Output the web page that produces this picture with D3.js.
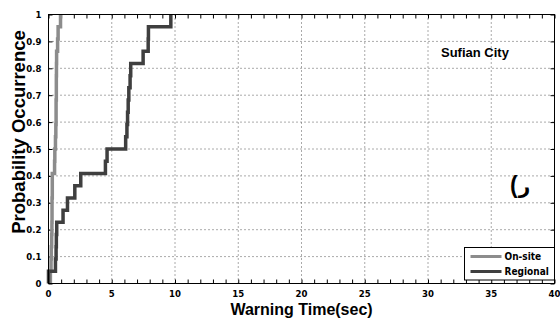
<!DOCTYPE html>
<html>
<head>
<meta charset="utf-8">
<script src="https://cdn.jsdelivr.net/npm/d3@7"></script>
<style>
  body { margin: 0; background: #fff; }
  text { font-family: "Liberation Sans", Arial, sans-serif; }
  .tick-label { font-family: "Liberation Sans Narrow", "DejaVu Sans Condensed", Arial, sans-serif; font-weight: bold; font-size: 9.5px; }
</style>
</head>
<body>
<div id="chart"></div>
<script>
// warning times (sec) per station, sorted; CDF step = i / N
const onsiteTimes = [0.15, 0.2, 0.22, 0.25, 0.27, 0.28, 0.28, 0.3, 0.3,
  0.48, 0.5,
  0.55, 0.58, 0.6, 0.6, 0.62, 0.62, 0.63, 0.64,
  0.72, 0.76,
  0.95];
const regionalTimes = [0, 0.55, 0.6, 0.62, 0.65,
  1.15, 1.5, 2.08, 2.55, 4.5, 4.63,
  6.1, 6.2, 6.25, 6.3, 6.35, 6.45, 6.5,
  7.48, 7.88, 7.9, 9.67];

const xTicks = [0, 5, 10, 15, 20, 25, 30, 35, 40];
const xMinorTicks = d3.range(0, 41, 1);
const yTicks = [0, 0.1, 0.2, 0.3, 0.4, 0.5, 0.6, 0.7, 0.8, 0.9, 1];

const seriesNames = ['On-site', 'Regional'];
const seriesColors = ['#8c8c8c', '#3f3f3f'];

const width = 560, height = 320;
const margin = { top: 14.5, right: 5.5, bottom: 36.5, left: 48.5 };
const innerW = width - margin.left - margin.right;
const innerH = height - margin.top - margin.bottom;

const svg = d3.select('#chart')
  .append('svg')
  .attr('width', width)
  .attr('height', height);

const g = svg.append('g')
  .attr('transform', `translate(${margin.left},${margin.top})`);

const x = d3.scaleLinear().domain([0, 40]).range([0, innerW]);
const y = d3.scaleLinear().domain([0, 1]).range([innerH, 0]);

// grid
g.append('g')
  .selectAll('line')
  .data(xTicks.slice(1, -1))
  .enter().append('line')
  .attr('x1', d => x(d)).attr('x2', d => x(d))
  .attr('y1', 0).attr('y2', innerH)
  .attr('stroke', '#555').attr('stroke-dasharray', '1,3');

g.append('g')
  .selectAll('line')
  .data(yTicks.slice(1, -1))
  .enter().append('line')
  .attr('x1', 0).attr('x2', innerW)
  .attr('y1', d => y(d)).attr('y2', d => y(d))
  .attr('stroke', '#555').attr('stroke-dasharray', '1,3');

// axes (ticks pointing inward)
const xBottom = g.append('g')
  .attr('transform', `translate(0,${innerH})`)
  .call(d3.axisBottom(x).tickValues(xMinorTicks).tickSize(-4).tickFormat(''));
const xTop = g.append('g')
  .call(d3.axisTop(x).tickValues(xMinorTicks).tickSize(-4).tickFormat(''));
const yLeft = g.append('g')
  .call(d3.axisLeft(y).tickValues(yTicks).tickSize(-4).tickFormat(''));
const yRight = g.append('g')
  .attr('transform', `translate(${innerW},0)`)
  .call(d3.axisRight(y).tickValues(yTicks).tickSize(-4).tickFormat(''));
[xBottom, xTop, yLeft, yRight].forEach(a => {
  a.select('.domain').remove();
  a.selectAll('line').attr('stroke', '#000');
});

// tick labels
g.append('g').selectAll('text')
  .data(xTicks)
  .enter().append('text')
  .attr('class', 'tick-label')
  .attr('x', d => x(d))
  .attr('y', innerH + 13.5)
  .attr('text-anchor', 'middle')
  .text(d => d);

g.append('g').selectAll('text')
  .data(yTicks)
  .enter().append('text')
  .attr('class', 'tick-label')
  .attr('x', -7)
  .attr('y', d => y(d) + 3.5)
  .attr('text-anchor', 'end')
  .text(d => d);

// cdf lines
const toSteps = times => [[times[0], 0]].concat(times.map((t, i) => [t, (i + 1) / times.length]));
const line = d3.line()
  .x(d => x(d[0]))
  .y(d => y(d[1]))
  .curve(d3.curveStepAfter);

[onsiteTimes, regionalTimes].forEach((times, i) => {
  g.append('path')
    .datum(toSteps(times))
    .attr('d', line)
    .attr('fill', 'none')
    .attr('stroke', seriesColors[i])
    .attr('stroke-width', 3.5);
});

// frame
g.append('rect')
  .attr('width', innerW).attr('height', innerH)
  .attr('fill', 'none').attr('stroke', '#000').attr('stroke-width', 1);

// axis titles
svg.append('text')
  .attr('x', margin.left + innerW / 2)
  .attr('y', 315)
  .attr('text-anchor', 'middle')
  .attr('font-weight', 'bold')
  .attr('font-size', 16)
  .text('Warning Time(sec)');

svg.append('text')
  .attr('transform', 'translate(25,132) rotate(-90)')
  .attr('text-anchor', 'middle')
  .attr('font-weight', 'bold')
  .attr('font-size', 18.5)
  .text('Probability Occurrence');

// annotations
svg.append('text')
  .attr('x', 441).attr('y', 57)
  .attr('font-weight', 'bold')
  .attr('font-size', 13)
  .text('Sufian City');

const mark = svg.append('text')
  .attr('x', 510).attr('y', 193)
  .attr('font-weight', 'bold')
  .attr('fill', '#000')
  .style('direction', 'ltr')
  .style('unicode-bidi', 'bidi-override');
mark.append('tspan')
  .attr('font-size', 23)
  .text('(');
mark.append('tspan')
  .attr('dx', 1)
  .attr('font-family', 'DejaVu Sans')
  .attr('font-size', 20)
  .text('ر');

// legend
const legend = svg.append('g').attr('transform', 'translate(464.5,247.5)');
legend.append('rect')
  .attr('width', 90).attr('height', 32.5)
  .attr('fill', '#fff').attr('stroke', '#000');
seriesNames.forEach((name, i) => {
  legend.append('line')
    .attr('x1', 6).attr('x2', 37)
    .attr('y1', 9 + i * 15).attr('y2', 9 + i * 15)
    .attr('stroke', seriesColors[i]).attr('stroke-width', 3);
  legend.append('text')
    .attr('class', 'tick-label')
    .attr('x', 40)
    .attr('y', 12.5 + i * 15)
    .style('font-size', '10px')
    .text(name);
});
</script>
</body>
</html>
